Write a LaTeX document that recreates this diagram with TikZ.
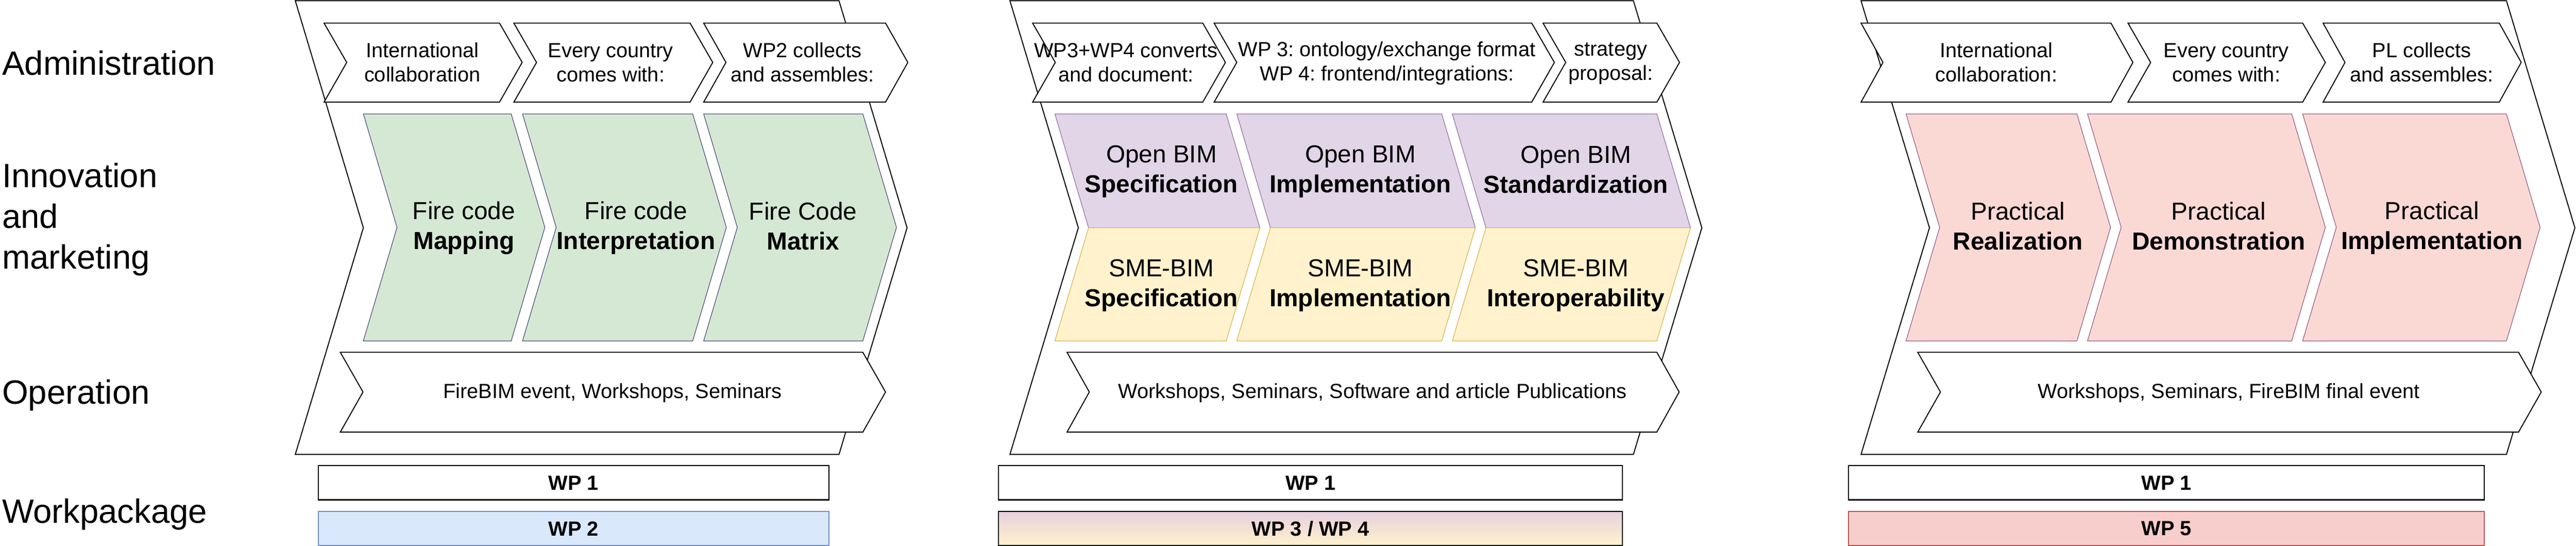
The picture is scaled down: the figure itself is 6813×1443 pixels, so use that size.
\documentclass[tikz,border=0pt]{standalone}
\usepackage{fontspec}
\setmainfont{Liberation Sans}
\usetikzlibrary{calc}
\frenchspacing

\definecolor{grnfill}{HTML}{D5E8D4}
\definecolor{grnline}{HTML}{56517E}
\definecolor{purfill}{HTML}{E1D5E7}
\definecolor{purline}{HTML}{9673A6}
\definecolor{yelfill}{HTML}{FFF2CC}
\definecolor{yelline}{HTML}{D6B656}
\definecolor{pnkfill}{HTML}{FAD9D5}
\definecolor{pnkline}{HTML}{996185}
\definecolor{blufill}{HTML}{DAE8FC}
\definecolor{bluline}{HTML}{6C8EBF}
\definecolor{redfill}{HTML}{F8CECC}
\definecolor{redline}{HTML}{B85450}
\definecolor{mixtop}{HTML}{E6D0DE}

\begin{document}
\begin{tikzpicture}[x=0.01cm,y=-0.01cm,line join=miter,
    lane/.style={draw=black,fill=white,line width=0.75pt},
    stepbox/.style={draw=black,fill=white,line width=0.75pt},
    part/.style={line width=0.5pt},
    wp/.style={draw=black,fill=white,line width=0.8pt,minimum height=0.9cm,inner sep=0pt,
        font=\fontsize{15.4}{18.2}\selectfont\bfseries\frenchspacing},
    txt/.style={inner sep=0pt,align=center,font=\fontsize{15.4}{18.2}\selectfont\frenchspacing},
    cell/.style={inner sep=0pt,align=center,font=\fontsize{18.5}{22.5}\selectfont\frenchspacing},
    row/.style={inner sep=0pt,anchor=west,align=left,font=\fontsize{25.3}{30.7}\selectfont}]
    \useasboundingbox (0,0) rectangle (6813,1443);

    \draw (5,166) node[row](adm){Administration};
    \draw (5,580) node[row](inno){Innovation\\and\\marketing};
    \draw (5,1045) node[row](oper){Operation};
    \draw (5,1360) node[row](wpk){Workpackage};

    \begin{scope}
        \draw[lane] (781,2) -- (2219,2) -- (2399,602) -- (2219,1201) -- (781,1201) -- (961,602) -- cycle;
        \draw[stepbox] (857,61) -- (1321,61) -- (1381,165) -- (1321,270) -- (857,270) -- (917,165) -- cycle;
        \draw[stepbox] (1359,61) -- (1825,61) -- (1885,165) -- (1825,270) -- (1359,270) -- (1419,165) -- cycle;
        \draw[stepbox] (1861,61) -- (2342,61) -- (2401,165) -- (2342,270) -- (1861,270) -- (1920,165) -- cycle;
        \draw[part,draw=grnline,fill=grnfill] (961,301) -- (1352,301) -- (1441,601) -- (1352,901) -- (961,901) -- (1050,601) -- cycle;
        \draw[part,draw=grnline,fill=grnfill] (1382,301) -- (1832,301) -- (1921,601) -- (1832,901) -- (1382,901) -- (1471,601) -- cycle;
        \draw[part,draw=grnline,fill=grnfill] (1861,301) -- (2282,301) -- (2371,601) -- (2282,901) -- (1861,901) -- (1950,601) -- cycle;
        \draw[stepbox] (900,931) -- (2282,931) -- (2342,1036) -- (2282,1142) -- (900,1142) -- (960,1036) -- cycle;

        \draw (1117,165) node[txt](a11){International\\collaboration};
        \draw (1615,165) node[txt](a12){Every country\\comes with:};
        \draw (2122,165) node[txt](a13){WP2 collects\\and assembles:};
        \draw (1227,603) node[cell](f1){Fire code\\\textbf{Mapping}};
        \draw (1682,603) node[cell](f2){Fire code\\\textbf{Interpretation}};
        \draw (2124,598) node[cell](f3){Fire Code\\\textbf{Matrix}};
        \draw (1620,1038) node[txt](o1){FireBIM event, Workshops, Seminars};
        \draw (1517,1276) node[wp,minimum width=13.5cm](wp1a){WP 1};
        \draw (1517,1397) node[wp,minimum width=13.5cm,draw=bluline,fill=blufill](wp2){WP 2};
    \end{scope}

    \begin{scope}
        \draw[lane] (2671,2) -- (4320,2) -- (4501,602) -- (4320,1201) -- (2671,1201) -- (2852,602) -- cycle;
        \draw[stepbox] (2731,61) -- (3181,61) -- (3241,165) -- (3181,270) -- (2731,270) -- (2791,165) -- cycle;
        \draw[stepbox] (3211,61) -- (4051,61) -- (4111,165) -- (4051,270) -- (3211,270) -- (3271,165) -- cycle;
        \draw[stepbox] (4081,61) -- (4382,61) -- (4442,165) -- (4382,270) -- (4081,270) -- (4141,165) -- cycle;
        \draw[part,draw=purline,fill=purfill] (2790,301) -- (3243,301) -- (3332,602) -- (2879,602) -- cycle;
        \draw[part,draw=purline,fill=purfill] (3271,301) -- (3813,301) -- (3902,602) -- (3360,602) -- cycle;
        \draw[part,draw=purline,fill=purfill] (3841,301) -- (4382,301) -- (4471,602) -- (3930,602) -- cycle;
        \draw[part,draw=yelline,fill=yelfill] (2879,602) -- (3332,602) -- (3243,901) -- (2790,901) -- cycle;
        \draw[part,draw=yelline,fill=yelfill] (3360,602) -- (3902,602) -- (3813,901) -- (3271,901) -- cycle;
        \draw[part,draw=yelline,fill=yelfill] (3930,602) -- (4471,602) -- (4382,901) -- (3841,901) -- cycle;
        \draw[stepbox] (2822,931) -- (4382,931) -- (4441,1036) -- (4382,1142) -- (2822,1142) -- (2881,1036) -- cycle;

        \draw (2978,165) node[txt](a21){WP3+WP4 converts\\and document:};
        \draw (3668,167) node[txt](a22){WP 3: ontology/exchange format\\WP 4: frontend/integrations:};
        \draw (4260,168) node[txt](a23){strategy\\proposal:};
        \draw (3072,454) node[cell](ob1){Open BIM\\\textbf{Specification}};
        \draw (3598,454) node[cell](ob2){Open BIM\\\textbf{Implementation}};
        \draw (4168,449) node[cell](ob3){Open BIM\\\textbf{Standardization}};
        \draw (3072,755) node[cell](sb1){SME-BIM\\\textbf{Specification}};
        \draw (3598,755) node[cell](sb2){SME-BIM\\\textbf{Implementation}};
        \draw (4168,755) node[cell](sb3){SME-BIM\\\textbf{Interoperability}};
        \draw (3630,1038) node[txt](o2){Workshops, Seminars, Software and article Publications};
        \draw (3466,1276) node[wp,minimum width=16.49cm](wp1b){WP 1};
        \draw (3466,1397) node[wp,minimum width=16.49cm,top color=mixtop,bottom color=yelfill](wp34){WP 3 / WP 4};
    \end{scope}

    \begin{scope}
        \draw[lane] (4922,2) -- (6629,2) -- (6810,602) -- (6629,1201) -- (4922,1201) -- (5103,602) -- cycle;
        \draw[stepbox] (4922,61) -- (5583,61) -- (5641,165) -- (5583,270) -- (4922,270) -- (4980,165) -- cycle;
        \draw[stepbox] (5628,61) -- (6090,61) -- (6150,165) -- (6090,270) -- (5628,270) -- (5688,165) -- cycle;
        \draw[stepbox] (6144,61) -- (6610,61) -- (6668,165) -- (6610,270) -- (6144,270) -- (6202,165) -- cycle;
        \draw[part,draw=pnkline,fill=pnkfill] (5041,301) -- (5493,301) -- (5582,601) -- (5493,901) -- (5041,901) -- (5130,601) -- cycle;
        \draw[part,draw=pnkline,fill=pnkfill] (5521,301) -- (6061,301) -- (6150,601) -- (6061,901) -- (5521,901) -- (5610,601) -- cycle;
        \draw[part,draw=pnkline,fill=pnkfill] (6090,301) -- (6629,301) -- (6718,601) -- (6629,901) -- (6090,901) -- (6179,601) -- cycle;
        \draw[stepbox] (5072,931) -- (6661,931) -- (6721,1036) -- (6661,1142) -- (5072,1142) -- (5132,1036) -- cycle;

        \draw (5280,165) node[txt](a31){International\\collaboration:};
        \draw (5888,165) node[txt](a32){Every country\\comes with:};
        \draw (6405,165) node[txt](a33){PL collects\\and assembles:};
        \draw (5337,598) node[cell](pr1){Practical\\\textbf{Realization}};
        \draw (5868,598) node[cell](pr2){Practical\\\textbf{Demonstration}};
        \draw (6432,603) node[cell](pr3){Practical\\\textbf{Implementation}};
        \draw (5895,1038) node[txt](o3){Workshops, Seminars, FireBIM final event};
        \draw (5730,1276) node[wp,minimum width=16.81cm](wp1c){WP 1};
        \draw (5730,1397) node[wp,minimum width=16.81cm,draw=redline,fill=redfill](wp5){WP 5};
    \end{scope}
\end{tikzpicture}
\end{document}
